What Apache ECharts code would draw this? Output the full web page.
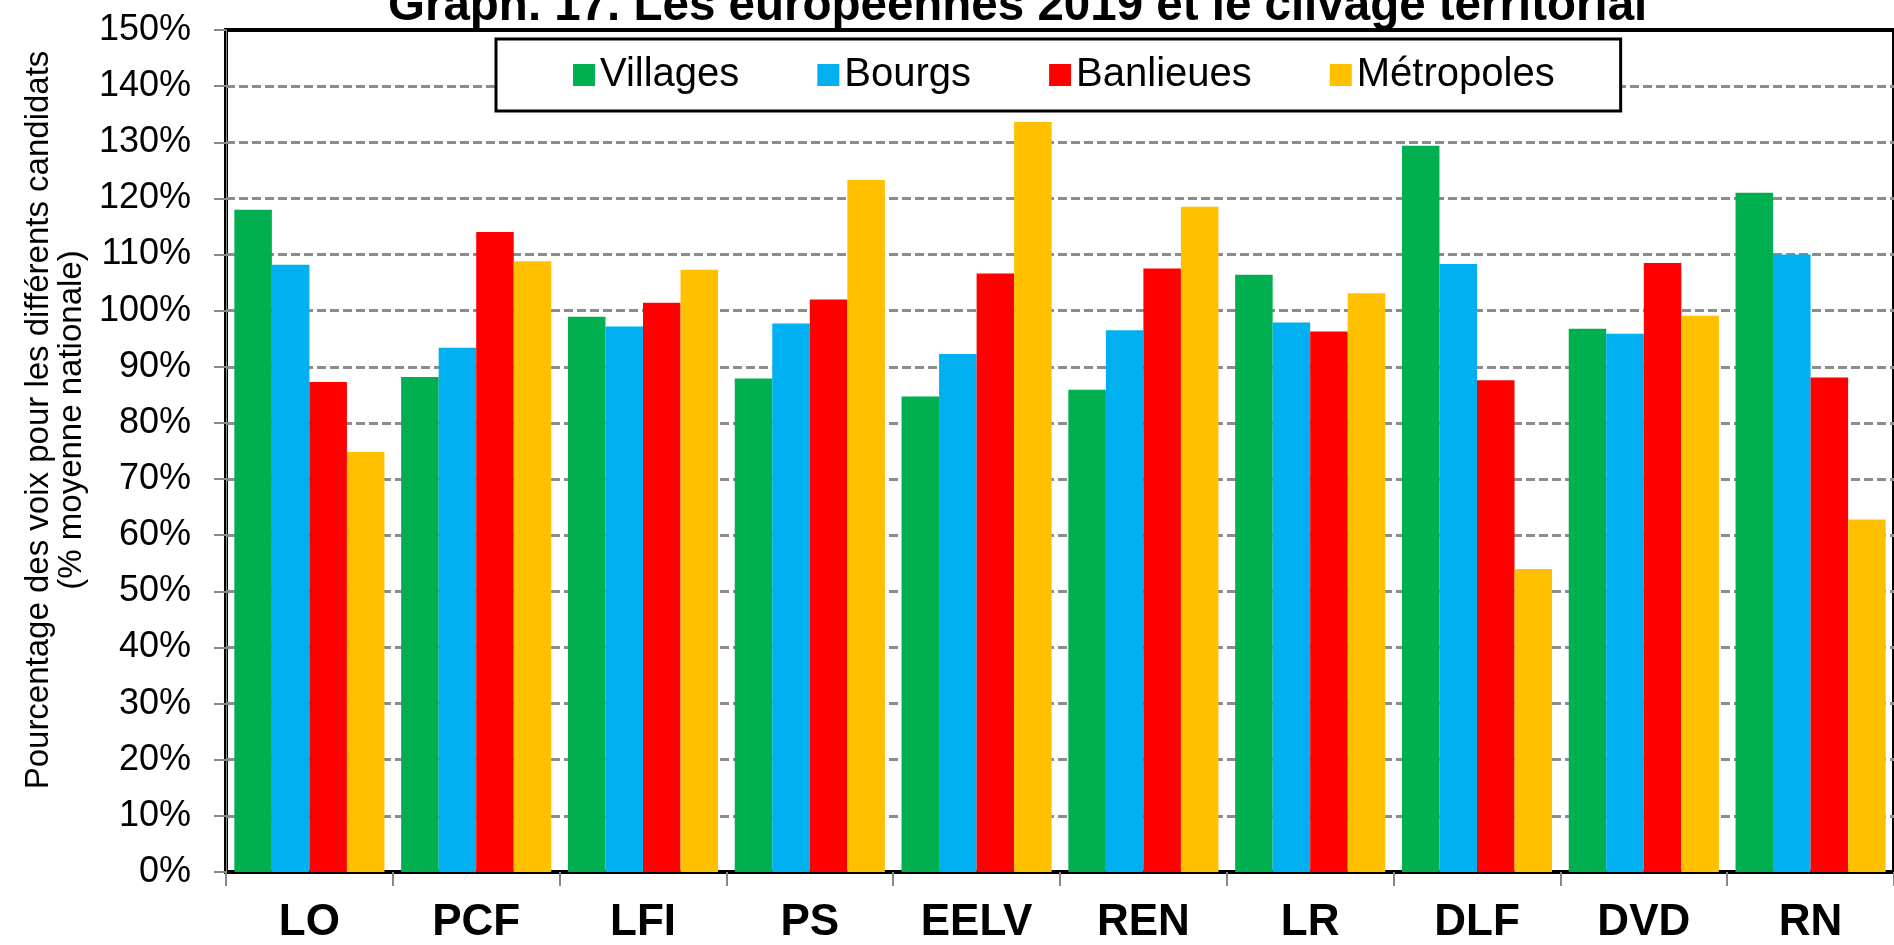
<!DOCTYPE html>
<html>
<head>
<meta charset="utf-8">
<script src="https://cdn.jsdelivr.net/npm/echarts@6/dist/echarts.min.js"></script>
<style>
  html, body { margin: 0; padding: 0; background: #fff; }
  #chart { width: 1894px; height: 945px; }
</style>
</head>
<body>
<div id="chart"></div>
<script>
// partis
var categories = ['LO', 'PCF', 'LFI', 'PS', 'EELV', 'REN', 'LR', 'DLF', 'DVD', 'RN'];
// % de la moyenne nationale, par type de territoire
var villages   = [118.0, 88.2, 98.9, 87.9, 84.7, 85.9, 106.4, 129.4, 96.8, 121.0];
var bourgs     = [108.2, 93.4, 97.2, 97.7, 92.3, 96.5, 97.9, 108.3, 95.9, 110.0];
var banlieues  = [87.3, 114.0, 101.4, 102.0, 106.6, 107.5, 96.3, 87.6, 108.5, 88.1];
var metropoles = [74.8, 108.8, 107.3, 123.3, 133.6, 118.5, 103.1, 54.0, 99.1, 62.8];

var font = "'Liberation Sans', Arial, sans-serif";

function serie(name, data, color) {
  return {
    name: name,
    type: 'bar',
    data: data,
    barGap: '0%',
    barCategoryGap: '10%',
    itemStyle: { color: color }
  };
}

var option = {
  animation: false,
  backgroundColor: '#fff',
  title: {
    text: 'Graph. 17. Les européennes 2019 et le clivage territorial',
    left: 388,
    top: -17,
    padding: 0,
    textStyle: { fontFamily: font, fontSize: 47.5, fontWeight: 'bold', color: '#000' }
  },
  legend: {
    left: 496,
    top: 39,
    padding: [16, 66, 16, 77],
    itemGap: 78,
    itemWidth: 22,
    itemHeight: 22,
    borderColor: '#000',
    borderWidth: 3,
    backgroundColor: '#fff',
    z: 10,
    icon: 'rect',
    textStyle: { fontFamily: font, fontSize: 40, color: '#000' },
    data: ['Villages', 'Bourgs', 'Banlieues', 'Métropoles']
  },
  grid: {
    left: 226,
    top: 30,
    bottom: 70,
    right: -15,
    show: true,
    borderColor: '#000',
    borderWidth: 4
  },
  xAxis: {
    type: 'category',
    data: categories,
    axisLine: { show: false },
    axisTick: { show: true, length: 14, lineStyle: { color: '#888', width: 2 } },
    axisLabel: { margin: 29, fontFamily: font, fontSize: 44, fontWeight: 'bold', color: '#000' }
  },
  yAxis: {
    type: 'value',
    min: 0,
    max: 150,
    interval: 10,
    axisLine: { show: true, lineStyle: { color: '#888', width: 1 } },
    axisTick: { show: true, length: 12, lineStyle: { color: '#888', width: 2 } },
    axisLabel: { margin: 35, formatter: '{value}%', fontFamily: font, fontSize: 36, color: '#000' },
    splitLine: {
      showMinLine: false,
      showMaxLine: false,
      lineStyle: { color: '#8c8c8c', width: 3, type: [9, 4] }
    }
  },
  graphic: [
    {
      type: 'text',
      x: 39,
      y: 420,
      rotation: Math.PI / 2,
      style: {
        text: 'Pourcentage des voix pour les différents candidats',
        font: '33px ' + font,
        fill: '#000',
        textAlign: 'center',
        textVerticalAlign: 'middle'
      }
    },
    {
      type: 'text',
      x: 72,
      y: 420,
      rotation: Math.PI / 2,
      style: {
        text: '(% moyenne nationale)',
        font: '33px ' + font,
        fill: '#000',
        textAlign: 'center',
        textVerticalAlign: 'middle'
      }
    }
  ],
  series: [
    serie('Villages', villages, '#00B050'),
    serie('Bourgs', bourgs, '#00B0F0'),
    serie('Banlieues', banlieues, '#FF0000'),
    serie('Métropoles', metropoles, '#FFC000')
  ]
};

var myChart = echarts.init(document.getElementById('chart'));
myChart.setOption(option);
</script>
</body>
</html>
